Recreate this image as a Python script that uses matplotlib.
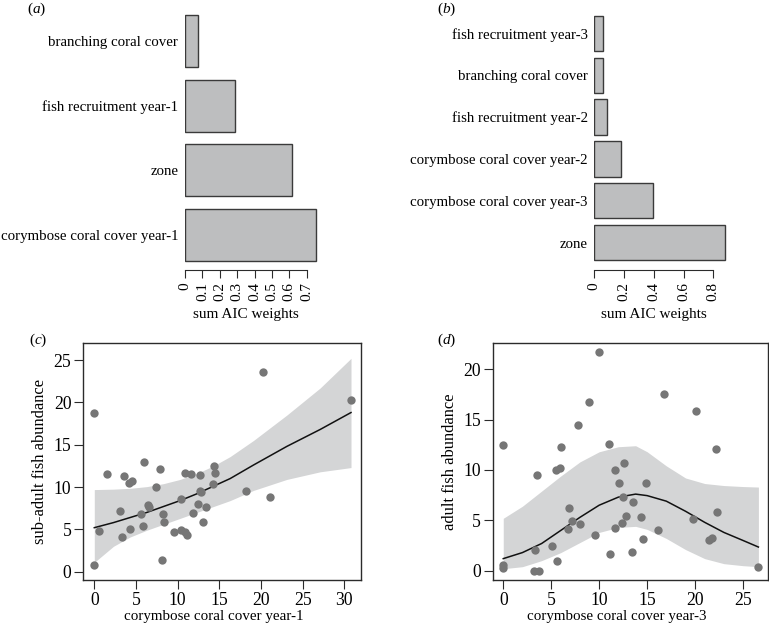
import matplotlib
matplotlib.use('Agg')
import matplotlib.pyplot as plt

plt.rcParams['font.family'] = ['Liberation Serif', 'DejaVu Serif']
plt.rcParams['mathtext.fontset'] = 'custom'
plt.rcParams['mathtext.rm'] = 'Liberation Serif'
plt.rcParams['mathtext.it'] = 'Liberation Serif:italic'

# panel (a): sum of AIC weights, sub-adults
a_labels = ['corymbose coral cover year-1', 'zone', 'fish recruitment year-1', 'branching coral cover']
a_weights = [0.754, 0.616, 0.286, 0.075]
a_ticks = [0, 0.1, 0.2, 0.3, 0.4, 0.5, 0.6, 0.7]

# panel (b): sum of AIC weights, adults
b_labels = ['zone', 'corymbose coral cover year-3', 'corymbose coral cover year-2',
            'fish recruitment year-2', 'branching coral cover', 'fish recruitment year-3']
b_weights = [0.876, 0.392, 0.177, 0.083, 0.060, 0.056]
b_ticks = [0, 0.2, 0.4, 0.6, 0.8]

# panel (c): sub-adult abundance vs corymbose cover year-1
c_x = [0, 0, 0.56, 1.52, 3.12, 3.28, 3.52, 4.12, 4.52, 4.32, 5.64, 5.84, 6.0, 6.48, 6.56,
       7.44, 7.92, 8.2, 8.36, 8.16, 9.52, 10.36, 10.4, 10.84, 10.92, 11.16, 11.64, 11.84,
       12.44, 12.68, 12.72, 12.8, 13.04, 13.4, 14.24, 14.36, 14.48, 18.16, 20.2, 21.12, 30.76]
c_y = [18.8, 0.8, 4.84, 11.54, 7.13, 4.13, 11.34, 10.47, 10.71, 5.0, 6.77, 5.43, 12.91, 7.91, 7.64,
       10.0, 12.13, 6.85, 5.83, 1.38, 4.72, 8.54, 4.92, 11.61, 4.65, 4.37, 11.5, 6.97,
       8.03, 11.46, 9.53, 9.4, 5.91, 7.68, 10.39, 12.52, 11.65, 9.53, 23.54, 8.86, 20.24]
c_curve_x = [0, 2.3, 4.3, 6.3, 8.3, 10.3, 12.3, 14.3, 16.3, 19.1, 23.1, 27.1, 30.8]
c_fit = [5.2, 5.8, 6.4, 7.0, 7.7, 8.4, 9.2, 10.1, 11.0, 12.6, 14.8, 16.8, 18.8]
c_upper = [9.7, 9.75, 9.85, 10.05, 10.4, 10.9, 11.6, 12.5, 13.6, 15.5, 18.5, 21.7, 25.2]
c_lower = [1.1, 3.0, 4.1, 4.9, 5.6, 6.3, 7.0, 7.7, 8.4, 9.6, 10.9, 11.8, 12.3]

# panel (d): adult abundance vs corymbose cover year-3
d_x = [0, 0, 0, 3.27, 3.2, 3.72, 3.51, 5.08, 5.63, 5.46, 5.88, 6.02, 6.88, 6.75, 7.2, 7.96,
       7.82, 8.97, 9.56, 10.01, 11.09, 11.05, 11.65, 11.65, 12.03, 12.41, 12.45, 12.55, 12.8,
       13.39, 13.49, 14.36, 14.6, 14.85, 16.1, 16.79, 19.82, 20.13, 21.49, 21.8, 22.18, 22.32, 26.6]
d_y = [0.56, 0.3, 12.5, 2.05, 0, 0, 9.49, 2.41, 0.96, 9.98, 10.15, 12.26, 6.21, 4.17, 4.89, 4.6,
       14.5, 16.76, 3.5, 21.69, 1.64, 12.6, 10.0, 4.2, 8.73, 4.7, 7.34, 10.65, 5.43,
       1.86, 6.78, 5.36, 3.11, 8.73, 4.04, 17.52, 5.16, 15.87, 3.04, 3.21, 12.03, 5.85, 0.4]
d_curve_x = [0, 2, 4, 6, 8, 10, 12, 13.8, 15, 17, 19, 21, 23, 25, 26.6]
d_fit = [1.2, 1.8, 2.7, 4.0, 5.3, 6.5, 7.3, 7.6, 7.45, 6.9, 5.9, 4.8, 3.8, 3.0, 2.35]
d_upper = [5.2, 6.4, 7.9, 9.4, 10.8, 11.8, 12.3, 12.4, 11.8, 10.4, 9.2, 8.65, 8.45, 8.35, 8.3]
d_lower = [0.2, 0.4, 1.0, 1.8, 2.8, 3.8, 4.3, 4.4, 4.1, 3.2, 2.1, 1.2, 0.7, 0.5, 0.4]

W, H = 769, 624
fig = plt.figure(figsize=(W / 100, H / 100), dpi=100)


def px_axes(left, top, right, bottom):
    return fig.add_axes([left / W, 1 - bottom / H, (right - left) / W, (bottom - top) / H])


bar_face = '#bdbebf'
bar_edge = '#3a3a3a'
ink = '#2b2b2b'


def bar_panel(ax, labels, weights, ticks, height, xmax, ymin, ymax):
    pos = list(range(len(labels)))
    ax.barh(pos, weights, height=height, color=bar_face, edgecolor=bar_edge, linewidth=1.0)
    ax.set_yticks(pos)
    ax.set_yticklabels(labels, fontsize=10.7)
    ax.tick_params(axis='y', length=0, pad=4.8)
    ax.set_xlim(0, xmax)
    ax.set_ylim(ymin, ymax)
    for s in ['top', 'right', 'left']:
        ax.spines[s].set_visible(False)
    ax.spines['bottom'].set_position(('outward', 3))
    ax.spines['bottom'].set_bounds(ticks[0], ticks[-1])
    ax.spines['bottom'].set_color(ink)
    ax.set_xticks(ticks)
    ax.set_xticklabels([('%g' % t) for t in ticks], rotation=90, fontsize=11)
    ax.tick_params(axis='x', direction='out', length=5.8, pad=3, color=ink)
    ax.set_xlabel('sum AIC weights', fontsize=11)
    ax.xaxis.set_label_coords(ticks[-1] / 2 / xmax, -0.163)


ax_a = px_axes(185, 10, 330, 266)
bar_panel(ax_a, a_labels, a_weights, a_ticks, 0.8, 145 / 173.8, -0.478, 3.478)

ax_b = px_axes(594.3, 10, 745, 266)
bar_panel(ax_b, b_labels, b_weights, b_ticks, 0.84, 150.7 / 148.75, -0.555, 5.555)


def scatter_panel(ax, x, y, cx, fit, lo, hi, xticks, yticks, xlim, ylim, xlabel, ylabel, xlab_pos):
    ax.fill_between(cx, lo, hi, color='#d4d5d6', linewidth=0)
    ax.plot(cx, fit, color='#111111', linewidth=1.1)
    ax.scatter(x, y, s=36, color='#767676', linewidths=0, zorder=3)
    ax.set_xlim(*xlim)
    ax.set_ylim(*ylim)
    ax.set_xticks(xticks)
    ax.set_yticks(yticks)
    ax.tick_params(direction='out', length=6.5, labelsize=12.7, color=ink, pad=2)
    for s in ax.spines.values():
        s.set_color(ink)
        s.set_linewidth(1.0)
    ax.set_xlabel(xlabel, fontsize=10.8, labelpad=1)
    ax.set_ylabel(ylabel, fontsize=11.9, labelpad=4)
    ax.xaxis.set_label_coords(xlab_pos, -0.125)


ax_c = px_axes(83.3, 342.7, 361, 580)
scatter_panel(ax_c, c_x, c_y, c_curve_x, c_fit, c_lower, c_upper,
              [0, 5, 10, 15, 20, 25, 30], [0, 5, 10, 15, 20, 25],
              (-1.32, 32.0), (-0.98, 27.05),
              'corymbose coral cover year-1', 'sub-adult fish abundance', 0.47)

ax_d = px_axes(493, 343.3, 768, 580)
scatter_panel(ax_d, d_x, d_y, d_curve_x, d_fit, d_lower, d_upper,
              [0, 5, 10, 15, 20, 25], [0, 5, 10, 15, 20],
              (-1.07, 27.6), (-0.92, 22.56),
              'corymbose coral cover year-3', 'adult fish abundance', 0.45)

# panel letters
for txt, xp, yp in [('a', 37, 9), ('b', 447, 9), ('c', 38, 340), ('d', 447, 340)]:
    fig.text(xp / W, 1 - yp / H, r'($\mathit{%s}$)' % txt, fontsize=11, ha='center', va='center')

fig.savefig('out.png', dpi=100)
